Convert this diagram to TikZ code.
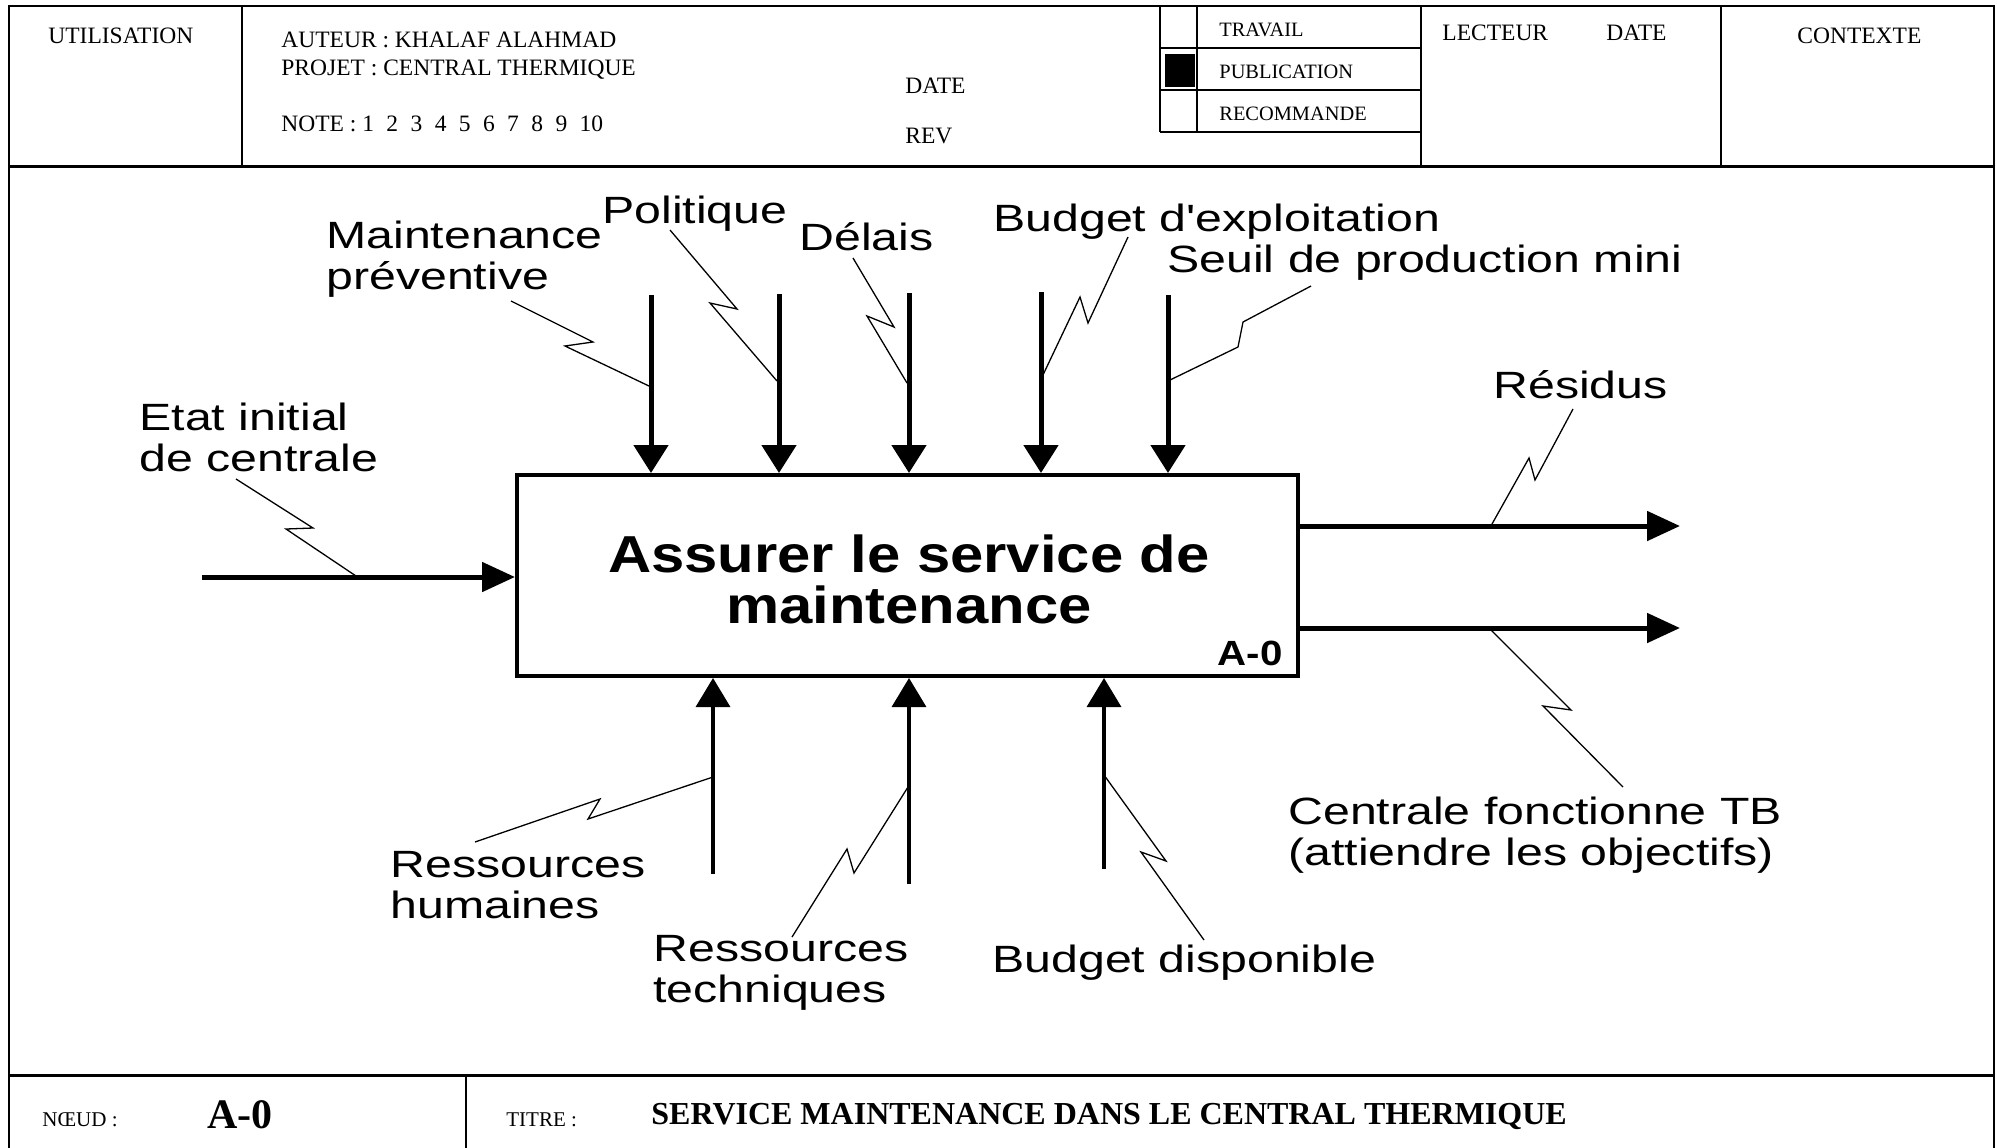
\documentclass[tikz,border=0pt]{standalone}
\usepackage{fontspec}
\setmainfont{Liberation Serif}
\newfontfamily\labfont[FakeStretch=1.27,Ligatures=TeXOff]{Liberation Sans}
\newfontfamily\boxfont[FakeStretch=1.15]{Liberation Sans}
\usetikzlibrary{arrows.meta}
\begin{document}
\begin{tikzpicture}[x=0.5pt,y=-0.5pt,
  grid/.style={line width=1pt},
  hdr/.style={inner sep=0pt, anchor=base west, font=\fontsize{11.75pt}{14pt}\selectfont},
  hdrsmall/.style={inner sep=0pt, anchor=base west, font=\fontsize{10.2pt}{12pt}\selectfont},
  lbl/.style={inner sep=0pt, anchor=base west, font=\labfont\fontsize{19pt}{22pt}\selectfont},
  ctrl/.style={line width=2.5pt, -{Triangle[length=14pt,width=17pt]}},
  mech/.style={line width=1.75pt, -{Triangle[length=14.5pt,width=17pt]}},
  io/.style={line width=2.5pt, -{Triangle[length=16.5pt,width=14.5pt]}},
  squig/.style={line width=0.65pt},
]
\useasboundingbox (0,0) rectangle (1997,1147);
% frame and header grid
\draw[grid] (9,1150) -- (9,6) -- (1994,6) -- (1994,1150);
\draw[line width=1.5pt] (9,166) -- (1994,166);
\draw[grid] (242,6) -- (242,166);
\draw[grid] (1160,6) -- (1160,132);
\draw[grid] (1197,6) -- (1197,132);
\draw[grid] (1421,6) -- (1421,166);
\draw[grid] (1721,6) -- (1721,166);
\draw[grid] (1160,48) -- (1421,48);
\draw[grid] (1160,90) -- (1421,90);
\draw[grid] (1160,132) -- (1421,132);
\fill (1165,54) rectangle (1195,87);
% footer grid
\draw[line width=1.5pt] (9,1075) -- (1994,1075);
\draw[grid] (466,1075) -- (466,1150);

% header texts
\node[hdr] (util) at (48,43) {UTILISATION};
\node[hdr] (auteur) at (281,47) {AUTEUR : KHALAF ALAHMAD};
\node[hdr] (projet) at (281,75) {PROJET : CENTRAL THERMIQUE};
\node[hdr] (note) at (281,131) {NOTE : 1\hspace{6.2pt}2\hspace{6.2pt}3\hspace{6.2pt}4\hspace{6.2pt}5\hspace{6.2pt}6\hspace{6.2pt}7\hspace{6.2pt}8\hspace{6.2pt}9\hspace{6.2pt}10};
\node[hdr] (date1) at (905,93) {DATE};
\node[hdr] (rev) at (905,143) {REV};
\node[hdrsmall] (travail) at (1219,36) {TRAVAIL};
\node[hdrsmall] (publ) at (1219,78) {PUBLICATION};
\node[hdrsmall] (recom) at (1219,120) {RECOMMANDE};
\node[hdr] (lect) at (1442,40) {LECTEUR};
\node[hdr] (date2) at (1606,40) {DATE};
\node[hdr] (ctx) at (1797,43) {CONTEXTE};

% footer texts
\node[inner sep=0pt, anchor=base west, font=\fontsize{10.5pt}{12pt}\selectfont] (noeud) at (42,1126) {NŒUD :};
\node[inner sep=0pt, anchor=base west, font=\bfseries\fontsize{21pt}{24pt}\selectfont] (a0f) at (207,1128) {A-0};
\node[inner sep=0pt, anchor=base west, font=\fontsize{10.5pt}{12pt}\selectfont] (titre) at (506,1126) {TITRE :};
\node[inner sep=0pt, anchor=base west, font=\bfseries\fontsize{16pt}{19pt}\selectfont] (titletext) at (651,1124) {SERVICE MAINTENANCE DANS LE CENTRAL THERMIQUE};

% activity box
\node[draw, line width=2pt, minimum width=390.5pt, minimum height=100.5pt, inner sep=0pt] (box) at (907.5,575.5) {};
\node[inner sep=0pt, anchor=base, font=\boxfont\bfseries\fontsize{26pt}{30pt}\selectfont] (t1) at (909,572) {Assurer le service de};
\node[inner sep=0pt, anchor=base, font=\boxfont\bfseries\fontsize{26pt}{30pt}\selectfont] (t2) at (909,623) {maintenance};
\node[inner sep=0pt, anchor=base east, font=\boxfont\bfseries\fontsize{17.5pt}{20pt}\selectfont] (a0) at (1283,665) {A-0};

% arrow free ends
\coordinate (cA) at (651,295);
\coordinate (cB) at (779,294);
\coordinate (cC) at (909,293);
\coordinate (cD) at (1041,292);
\coordinate (cE) at (1168,295);
\coordinate (mA) at (713,874);
\coordinate (mB) at (909,884);
\coordinate (mC) at (1104,869);
\coordinate (iA) at (202,577);
\coordinate (oA) at (1680,526);
\coordinate (oB) at (1680,628);

\draw[ctrl] (cA) -- (cA |- box.north);
\draw[ctrl] (cB) -- (cB |- box.north);
\draw[ctrl] (cC) -- (cC |- box.north);
\draw[ctrl] (cD) -- (cD |- box.north);
\draw[ctrl] (cE) -- (cE |- box.north);
\draw[mech] (mA) -- (mA |- box.south);
\draw[mech] (mB) -- (mB |- box.south);
\draw[mech] (mC) -- (mC |- box.south);
\draw[io] (iA) -- (iA -| box.west);
\draw[io] (box.east |- oA) -- (oA);
\draw[io] (box.east |- oB) -- (oB);

% labels
\node[lbl] (lmaint1) at (326,248) {Maintenance};
\node[lbl] (lmaint2) at (326,289) {préventive};
\node[lbl] (lpol) at (602,223) {Politique};
\node[lbl] (ldel) at (799,250) {Délais};
\node[lbl] (lbudx) at (993,231) {Budget d'exploitation};
\node[lbl] (lseuil) at (1167,272) {Seuil de production mini};
\node[lbl] (letat1) at (139,430) {Etat initial};
\node[lbl] (letat2) at (139,471) {de centrale};
\node[lbl] (lres) at (1493,398) {Résidus};
\node[lbl] (lcent1) at (1288,824) {Centrale fonctionne TB};
\node[lbl] (lcent2) at (1288,865) {(attiendre les objectifs)};
\node[lbl] (lrh1) at (390,877) {Ressources};
\node[lbl] (lrh2) at (390,918) {humaines};
\node[lbl] (lrt1) at (653,961) {Ressources};
\node[lbl] (lrt2) at (653,1002) {techniques};
\node[lbl] (lbd) at (992,972) {Budget disponible};

% squiggles
\draw[squig] (236,479) -- (313,528) -- (286,529) -- (356,576);
\draw[squig] (511,301) -- (593,342) -- (565,346) -- (649,386);
\draw[squig] (670,230) -- (737,309) -- (710,303) -- (777,381);
\draw[squig] (853,258) -- (894,327) -- (867,316) -- (907,383);
\draw[squig] (1128,237) -- (1088,323) -- (1080,297) -- (1042,377);
\draw[squig] (1311,286) -- (1243,322) -- (1238,347) -- (1170,380);
\draw[squig] (1573,409) -- (1535,480) -- (1529,458) -- (1492,524);
\draw[squig] (1491,630) -- (1571,710) -- (1543,706) -- (1623,787);
\draw[squig] (475,842) -- (600,799) -- (588,819) -- (713,777);
\draw[squig] (792,937) -- (847,849) -- (854,873) -- (908,787);
\draw[squig] (1204,940) -- (1141,852) -- (1166,861) -- (1104,775);
\end{tikzpicture}
\end{document}
